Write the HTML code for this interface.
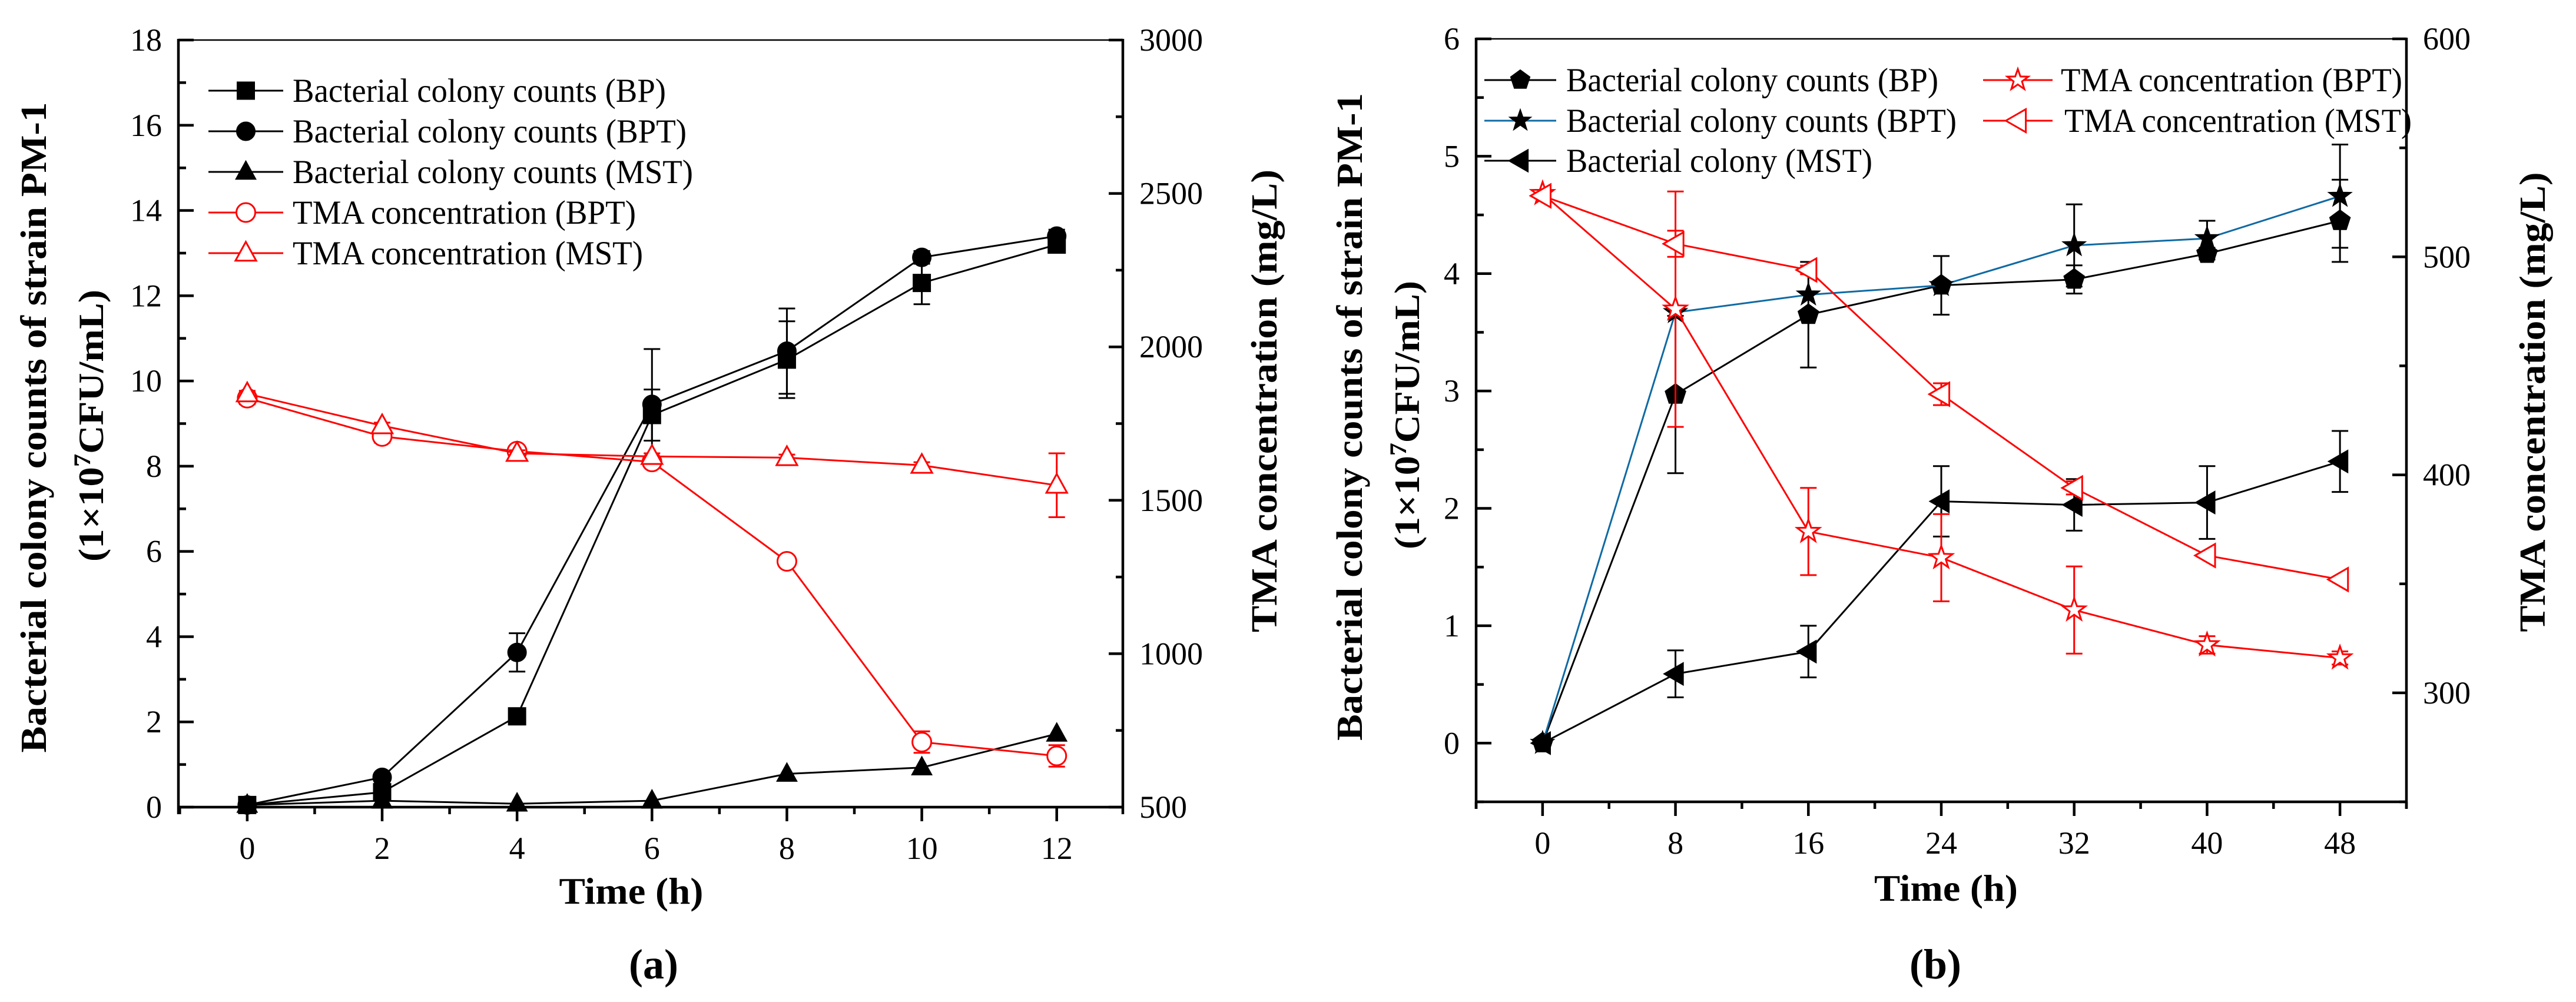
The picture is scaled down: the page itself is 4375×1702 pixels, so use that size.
<!DOCTYPE html>
<html><head><meta charset="utf-8"><style>
html,body{margin:0;padding:0;background:#fff}
svg{display:block}
svg text, svg tspan{font-family:"Liberation Serif","Times New Roman","DejaVu Serif",serif !important}
</style></head><body>
<svg id="fig" width="4375" height="1702" viewBox="0 0 4375 1702" xmlns="http://www.w3.org/2000/svg" font-family="Liberation Serif, Times New Roman, DejaVu Serif, serif"></svg>
<script>
// ---------- Panel (a) data ----------
const aHours = [0, 2, 4, 6, 8, 10, 12];
const aBP = [0.05, 0.35, 2.13, 9.2, 10.5, 12.3, 13.2];
const aBPerr = [0, 0, 0, 0.6, 0.9, 0.5, 0.1];
const aBPT = [0.05, 0.7, 3.63, 9.45, 10.7, 12.9, 13.4];
const aBPTerr = [0, 0, 0.45, 1.3, 1.0, 0.15, 0.15];
const aMST = [0.05, 0.15, 0.08, 0.15, 0.78, 0.93, 1.72];
const aMSTerr = [0, 0, 0, 0, 0, 0, 0];
const aTMABPT = [1833, 1708, 1660, 1625, 1301, 712, 667];
const aTMABPTerr = [20, 20, 10, 10, 10, 35, 35];
const aTMAMST = [1847, 1743, 1653, 1643, 1639, 1614, 1549];
const aTMAMSTerr = [10, 10, 10, 10, 10, 10, 104];
const aLeftTicks = [0, 2, 4, 6, 8, 10, 12, 14, 16, 18];
const aRightTicks = [500, 1000, 1500, 2000, 2500, 3000];
const aXTicks = [0, 2, 4, 6, 8, 10, 12];
// ---------- Panel (b) data ----------
const bHours = [0, 8, 16, 24, 32, 40, 48];
const bBP = [0, 2.97, 3.65, 3.9, 3.95, 4.17, 4.45];
const bBPerr = [0, 0.67, 0.45, 0.25, 0.12, 0.05, 0.35];
const bBPT = [0, 3.67, 3.82, 3.9, 4.24, 4.3, 4.66];
const bBPTerr = [0, 0, 0, 0, 0.35, 0.15, 0.44];
const bMST = [0, 0.59, 0.78, 2.06, 2.03, 2.05, 2.4];
const bMSTerr = [0, 0.2, 0.22, 0.3, 0.22, 0.31, 0.26];
const bTMABPT = [529, 476, 374, 362, 338, 322, 316];
const bTMABPTerr = [0, 54, 20, 20, 20, 4, 3];
const bTMAMST = [528, 506, 494, 437, 394, 363, 352];
const bTMAMSTerr = [0, 6, 2, 5, 3, 0, 0];
const bLeftTicks = [0, 1, 2, 3, 4, 5, 6];
const bRightTicks = [300, 400, 500, 600];
const bXTicks = [0, 8, 16, 24, 32, 40, 48];

const NS = "http://www.w3.org/2000/svg";
const FONT = "Liberation Serif, Times New Roman, DejaVu Serif, serif";
const svg = document.getElementById("fig");
function mk(tag, attrs, parent) {
  const e = document.createElementNS(NS, tag);
  for (const k in attrs) e.setAttribute(k, attrs[k]);
  if (tag === "text") e.setAttribute("font-family", FONT);
  (parent || svg).appendChild(e);
  return e;
}
const RED = "#ff0000", BLUE = "#0f6aa3", BLK = "#000";

function markerPath(type, cx, cy, s) {
  if (type === "square") return `M${cx-s} ${cy-s}h${2*s}v${2*s}h${-2*s}z`;
  if (type === "tri") return `M${cx} ${cy-s*1.2}L${cx+s*1.1} ${cy+s*0.8}L${cx-s*1.1} ${cy+s*0.8}z`;
  if (type === "ltri") return `M${cx-s*1.2} ${cy}L${cx+s*0.8} ${cy-s*1.15}L${cx+s*0.8} ${cy+s*1.15}z`;
  if (type === "pent" || type === "star") {
    let d = "", n = type === "pent" ? 5 : 10;
    for (let i = 0; i < n; i++) {
      const a = -Math.PI/2 + i*2*Math.PI/n;
      const r = type === "pent" ? s*1.1 : (i%2 ? s*0.5 : s*1.25);
      d += (i ? "L" : "M") + (cx + r*Math.cos(a)).toFixed(1) + " " + (cy + r*Math.sin(a)).toFixed(1);
    }
    return d + "z";
  }
  return "";
}
function drawMarker(g, type, cx, cy, s, color, open) {
  if (type === "circle") {
    return mk("circle", {cx, cy, r: s, fill: open ? "#fff" : color, stroke: color, "stroke-width": open ? 3 : 1}, g);
  }
  return mk("path", {d: markerPath(type, cx, cy, s), fill: open ? "#fff" : color, stroke: color, "stroke-width": open ? 3 : 1}, g);
}

function panel(cfg) {
  const P = cfg;
  const sx = v => P.L + (v - P.xmin) / (P.xmax - P.xmin) * (P.R - P.L);
  const syL = v => P.B - (v - P.ylmin) / (P.ylmax - P.ylmin) * (P.B - P.T);
  const syR = v => P.B - (v - P.yrmin) / (P.yrmax - P.yrmin) * (P.B - P.T);
  const g = mk("g", {}, svg);
  
  
  const ax = mk("g", {}, g);
  
  
  mk("line", {x1: P.L, y1: P.T, x2: P.R, y2: P.T, stroke: BLK, "stroke-width": 2.5}, ax);
  mk("line", {x1: P.L, y1: P.T - 2, x2: P.L, y2: P.B + 12, stroke: BLK, "stroke-width": 4.5}, ax);
  mk("line", {x1: P.R, y1: P.T - 2, x2: P.R, y2: P.B + 12, stroke: BLK, "stroke-width": 4.5}, ax);
  mk("line", {x1: P.L - 2, y1: P.B, x2: P.R + 2, y2: P.B, stroke: BLK, "stroke-width": 4.5}, ax);
  const lt = mk("g", {}, g);
  
  
  P.leftTicks.forEach((v, i) => {
    const y = syL(v);
    mk("line", {x1: P.L, y1: y, x2: P.L + 26, y2: y, stroke: BLK, "stroke-width": 4.5}, lt);
    if (i < P.leftTicks.length - 1) {
      const ym = syL(v + (P.leftTicks[1] - P.leftTicks[0]) / 2);
      mk("line", {x1: P.L, y1: ym, x2: P.L + 13, y2: ym, stroke: BLK, "stroke-width": 4.5}, lt);
    }
    const t = mk("text", {x: P.L - 28, y: y + 18, "text-anchor": "end", "font-size": 54}, lt);
    t.textContent = v;
  });
  if (P.ylmin < P.leftTicks[0]) {
    const ym = syL(P.leftTicks[0] - (P.leftTicks[1] - P.leftTicks[0]) / 2);
    mk("line", {x1: P.L, y1: ym, x2: P.L + 13, y2: ym, stroke: BLK, "stroke-width": 4.5}, lt);
  }
  const rt = mk("g", {}, g);
  
  
  const rstep = P.rightTicks[1] - P.rightTicks[0];
  P.rightTicks.forEach((v, i) => {
    const y = syR(v);
    mk("line", {x1: P.R, y1: y, x2: P.R - 24, y2: y, stroke: BLK, "stroke-width": 4.5}, rt);
    if (i < P.rightTicks.length - 1) {
      const ym = syR(v + rstep / 2);
      mk("line", {x1: P.R, y1: ym, x2: P.R - 12, y2: ym, stroke: BLK, "stroke-width": 4.5}, rt);
    }
    const t = mk("text", {x: P.R + 28, y: y + 18, "text-anchor": "start", "font-size": 54}, rt);
    t.textContent = v;
  });
  if (P.yrmin < P.rightTicks[0]) {
    const ym = syR(P.rightTicks[0] - rstep / 2);
    mk("line", {x1: P.R, y1: ym, x2: P.R - 12, y2: ym, stroke: BLK, "stroke-width": 4.5}, rt);
  }
  const xt = mk("g", {}, g);
  
  
  const xstep = P.xTicks[1] - P.xTicks[0];
  for (let v = P.xTicks[0] - xstep / 2; v <= P.xmax + 0.001; v += xstep / 2) {
    const x = sx(v);
    const major = Math.abs(((v - P.xTicks[0]) / xstep) - Math.round((v - P.xTicks[0]) / xstep)) < 1e-6;
    mk("line", {x1: x, y1: P.B, x2: x, y2: P.B + (major ? 24 : 12), stroke: BLK, "stroke-width": 4.5}, xt);
  }
  P.xTicks.forEach(v => {
    const t = mk("text", {x: sx(v), y: P.B + 88, "text-anchor": "middle", "font-size": 54}, xt);
    t.textContent = v;
  });
  P.series.forEach(s => {
    const sg = mk("g", {}, g);
    
    
    const sy = s.axis === "R" ? syR : syL;
    let d = "";
    s.vals.forEach((v, i) => { d += (i ? "L" : "M") + sx(P.xs[i]).toFixed(1) + " " + sy(v).toFixed(1); });
    mk("path", {d, fill: "none", stroke: s.line, "stroke-width": 3}, sg);
    s.vals.forEach((v, i) => {
      const e = s.err[i];
      if (e > 0) {
        const x = sx(P.xs[i]), y1 = sy(v - e), y2 = sy(v + e);
        mk("line", {x1: x, y1, x2: x, y2, stroke: s.color, "stroke-width": 3}, sg);
        mk("line", {x1: x - 14, y1, x2: x + 14, y2: y1, stroke: s.color, "stroke-width": 3}, sg);
        mk("line", {x1: x - 14, y1: y2, x2: x + 14, y2, stroke: s.color, "stroke-width": 3}, sg);
      }
    });
    s.vals.forEach((v, i) => {
      const m = drawMarker(sg, s.marker, sx(P.xs[i]), sy(v), s.size, s.color, s.open);
      
      
    });
  });
  const lg = mk("g", {}, g);
  
  
  P.legend.forEach(it => {
    const e = mk("g", {}, lg);
    
    
    mk("line", {x1: it.x1, y1: it.y, x2: it.x2, y2: it.y, stroke: it.line, "stroke-width": 3}, e);
    drawMarker(e, it.marker, (it.x1 + it.x2) / 2, it.y, it.size, it.color, it.open);
    const t = mk("text", {x: it.tx, y: it.y + 19, "font-size": 57, textLength: it.w, lengthAdjust: "spacingAndGlyphs"}, e);
    t.textContent = it.label;
  });
}

panel({
  name: "panel-a-chart", L: 303, R: 1907, T: 68, B: 1371,
  xmin: -1.02, xmax: 12.98, ylmin: 0, ylmax: 18, yrmin: 500, yrmax: 3000,
  xs: aHours, leftTicks: aLeftTicks, rightTicks: aRightTicks, xTicks: aXTicks,
  series: [
    {name: "series-bp", vals: aBP, err: aBPerr, axis: "L", marker: "square", size: 15, color: BLK, line: BLK},
    {name: "series-bpt", vals: aBPT, err: aBPTerr, axis: "L", marker: "circle", size: 16, color: BLK, line: BLK},
    {name: "series-mst", vals: aMST, err: aMSTerr, axis: "L", marker: "tri", size: 16, color: BLK, line: BLK},
    {name: "series-tma-bpt", vals: aTMABPT, err: aTMABPTerr, axis: "R", marker: "circle", size: 16, color: RED, line: RED, open: true},
    {name: "series-tma-mst", vals: aTMAMST, err: aTMAMSTerr, axis: "R", marker: "tri", size: 16, color: RED, line: RED, open: true}
  ],
  legend: [
    {x1: 354, x2: 481, y: 154, marker: "square", size: 15, color: BLK, line: BLK, tx: 497, w: 634, label: "Bacterial colony counts (BP)"},
    {x1: 354, x2: 481, y: 223, marker: "circle", size: 16, color: BLK, line: BLK, tx: 497, w: 669, label: "Bacterial colony counts (BPT)"},
    {x1: 354, x2: 481, y: 292, marker: "tri", size: 16, color: BLK, line: BLK, tx: 497, w: 680, label: "Bacterial colony counts (MST)"},
    {x1: 354, x2: 481, y: 361, marker: "circle", size: 16, color: RED, line: RED, open: true, tx: 497, w: 583, label: "TMA concentration (BPT)"},
    {x1: 354, x2: 481, y: 430, marker: "tri", size: 16, color: RED, line: RED, open: true, tx: 497, w: 595, label: "TMA concentration (MST)"}
  ]
});

panel({
  name: "panel-b-chart", L: 2507, R: 4087, T: 66, B: 1362,
  xmin: -4, xmax: 52, ylmin: -0.5, ylmax: 6, yrmin: 250, yrmax: 600,
  xs: bHours, leftTicks: bLeftTicks, rightTicks: bRightTicks, xTicks: bXTicks,
  series: [
    {name: "series-bp", vals: bBP, err: bBPerr, axis: "L", marker: "pent", size: 17, color: BLK, line: BLK},
    {name: "series-bpt", vals: bBPT, err: bBPTerr, axis: "L", marker: "star", size: 17, color: BLK, line: BLUE},
    {name: "series-mst", vals: bMST, err: bMSTerr, axis: "L", marker: "ltri", size: 17, color: BLK, line: BLK},
    {name: "series-tma-bpt", vals: bTMABPT, err: bTMABPTerr, axis: "R", marker: "star", size: 16, color: RED, line: RED, open: true},
    {name: "series-tma-mst", vals: bTMAMST, err: bTMAMSTerr, axis: "R", marker: "ltri", size: 17, color: RED, line: RED, open: true}
  ],
  legend: [
    {x1: 2521, x2: 2643, y: 136, marker: "pent", size: 16, color: BLK, line: BLK, tx: 2660, w: 632, label: "Bacterial colony counts (BP)"},
    {x1: 2521, x2: 2643, y: 205, marker: "star", size: 16, color: BLK, line: BLUE, tx: 2660, w: 663, label: "Bacterial colony counts (BPT)"},
    {x1: 2521, x2: 2643, y: 273, marker: "ltri", size: 17, color: BLK, line: BLK, tx: 2660, w: 520, label: "Bacterial colony (MST)"},
    {x1: 3368, x2: 3486, y: 136, marker: "star", size: 15, color: RED, line: RED, open: true, tx: 3500, w: 580, label: "TMA concentration (BPT)"},
    {x1: 3368, x2: 3486, y: 205, marker: "ltri", size: 17, color: RED, line: RED, open: true, tx: 3506, w: 590, label: "TMA concentration (MST)"}
  ]
});

function title(txt, x, y, size, rot, len, name, bold) {
  const t = mk("text", {x, y, "text-anchor": "middle", "font-size": size, "font-weight": bold === false ? "normal" : "bold"});
  if (rot) t.setAttribute("transform", `rotate(-90 ${x} ${y})`);
  if (len) { t.setAttribute("textLength", len); t.setAttribute("lengthAdjust", "spacingAndGlyphs"); }
  
  
  t.textContent = txt;
  return t;
}
function unitTitle(x, y, len, name) {
  const t = mk("text", {x, y, "text-anchor": "middle", "font-size": 60, "font-weight": "bold", transform: `rotate(-90 ${x} ${y})`, textLength: len, lengthAdjust: "spacingAndGlyphs"});
  
  
  const a = mk("tspan", {}, t); a.textContent = "(1×10";
  const b = mk("tspan", {"baseline-shift": "super", "font-size": 40}, t); b.textContent = "7";
  const c = mk("tspan", {}, t); c.textContent = "CFU/mL)";
}
title("Bacterial colony counts of strain PM-1", 78, 726, 62, true, 1105, "left-y-axis-title");
unitTitle(175, 723, 462, "left-y-axis-unit");
title("TMA concentration (mg/L)", 2168, 681, 62, true, 786, "right-y-axis-title");
title("Time (h)", 1072, 1535, 64, false, 245, "x-axis-title");
title("(a)", 1110, 1662, 72, false, 0, "panel-a-label");

title("Bacterial colony counts of strain PM-1", 2313, 708, 62, true, 1100, "left-y-axis-title");
unitTitle(2410, 705, 456, "left-y-axis-unit");
title("TMA concentration (mg/L)", 4322, 683, 62, true, 781, "right-y-axis-title");
title("Time (h)", 3305, 1530, 64, false, 244, "x-axis-title");
title("(b)", 3287, 1662, 72, false, 0, "panel-b-label");
</script>
</body></html>
